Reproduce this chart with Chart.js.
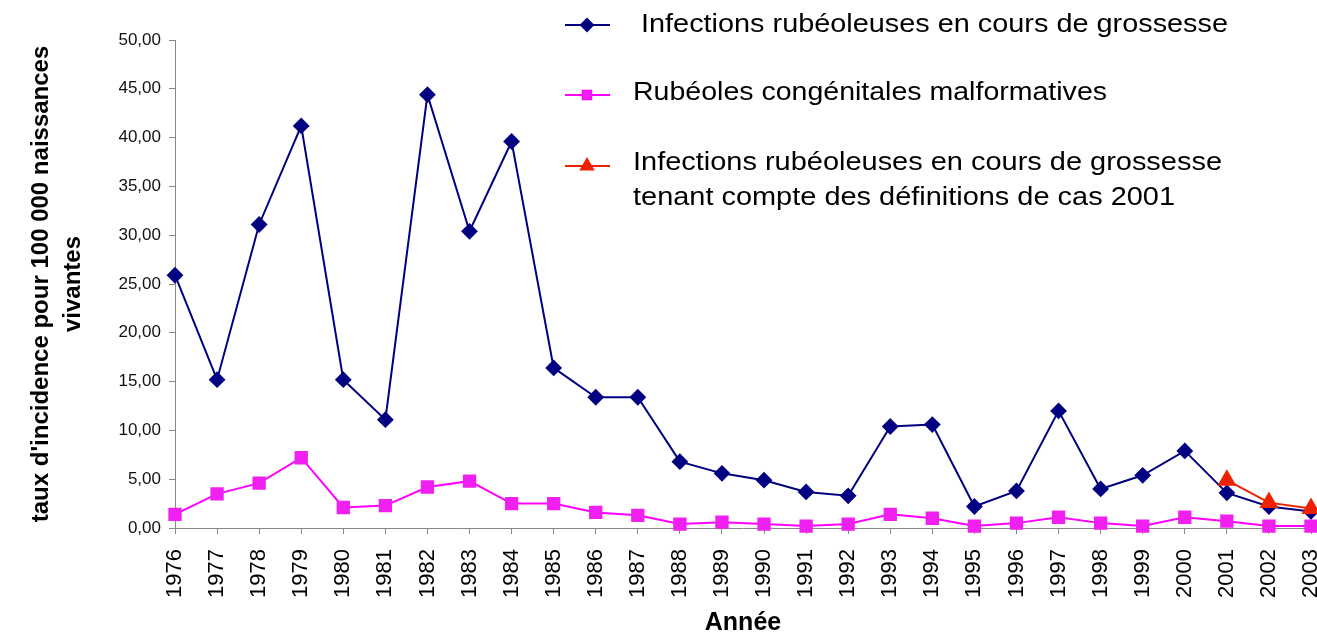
<!DOCTYPE html>
<html>
<head>
<meta charset="utf-8">
<script src="https://cdn.jsdelivr.net/npm/chart.js@4/dist/chart.umd.min.js"></script>
<style>
  html, body { margin: 0; padding: 0; background: #fff; overflow: hidden; }
  #wrap { width: 1317px; height: 636px; overflow: hidden; }
</style>
</head>
<body>
<div id="wrap"><canvas id="c" width="1322" height="636"></canvas></div>
<script>
const years = ['1976','1977','1978','1979','1980','1981','1982','1983','1984','1985','1986','1987','1988','1989',
  '1990','1991','1992','1993','1994','1995','1996','1997','1998','1999','2000','2001','2002','2003'];

const infections = [25.9, 15.2, 31.1, 41.2, 15.2, 11.1, 44.4, 30.4, 39.6, 16.4, 13.4, 13.4, 6.8, 5.6,
  4.9, 3.7, 3.3, 10.4, 10.6, 2.2, 3.8, 12.0, 4.0, 5.4, 7.9, 3.6, 2.2, 1.7];

const malformatives = [1.4, 3.5, 4.6, 7.2, 2.1, 2.3, 4.2, 4.8, 2.5, 2.5, 1.6, 1.3, 0.4, 0.6,
  0.4, 0.2, 0.4, 1.4, 1.0, 0.2, 0.5, 1.1, 0.5, 0.2, 1.1, 0.7, 0.2, 0.2];

const infections2001 = [null, null, null, null, null, null, null, null, null, null, null, null, null, null,
  null, null, null, null, null, null, null, null, null, null, null, 4.9, 2.6, 2.0];

const legendLines = [
  [' Infections rubéoleuses en cours de grossesse'],
  ['Rubéoles congénitales malformatives'],
  ['Infections rubéoleuses en cours de grossesse', 'tenant compte des définitions de cas 2001']
];

const font = '"Liberation Sans", Arial, sans-serif';

// legend drawn in the upper right, over the plot
const sideLegend = {
  id: 'sideLegend',
  afterDraw(chart) {
    const ctx = chart.ctx;
    const rows = [
      { marker: 25, base: [32], widths: [595] },
      { marker: 95, base: [100], widths: [474] },
      { marker: 166, base: [170, 205], widths: [589, 542] }
    ];
    chart.data.datasets.forEach((ds, i) => {
      const r = rows[i];
      ctx.save();
      ctx.strokeStyle = ds.borderColor;
      ctx.lineWidth = 2;
      ctx.beginPath();
      ctx.moveTo(565, r.marker);
      ctx.lineTo(610, r.marker);
      ctx.stroke();
      Chart.helpers.drawPoint(ctx, {
        pointStyle: ds.pointStyle, radius: ds.legendRadius, rotation: 0, borderWidth: 1
      }, 587, r.marker);
      ctx.fillStyle = ds.pointBackgroundColor;
      ctx.strokeStyle = ds.pointBorderColor;
      ctx.fill();
      ctx.restore();

      ctx.save();
      ctx.fillStyle = '#000';
      ctx.font = '26px ' + font;
      ctx.textBaseline = 'alphabetic';
      legendLines[i].forEach((txt, k) => {
        const w = ctx.measureText(txt).width;
        ctx.save();
        ctx.translate(633, r.base[k]);
        ctx.scale(r.widths[k] / w, 1);
        ctx.fillText(txt, 0, 0);
        ctx.restore();
      });
      ctx.restore();
    });
  }
};

new Chart(document.getElementById('c'), {
  type: 'line',
  data: {
    labels: years,
    datasets: [
      {
        label: 'Infections rubéoleuses en cours de grossesse',
        data: infections,
        borderColor: '#000080',
        backgroundColor: '#000080',
        pointBackgroundColor: '#000080',
        pointBorderColor: '#000080',
        pointStyle: 'rectRot',
        pointRadius: 7,
        legendRadius: 6,
        borderWidth: 2,
        tension: 0,
        clip: false,
        order: 1
      },
      {
        label: 'Rubéoles congénitales malformatives',
        data: malformatives,
        borderColor: '#FF00FF',
        backgroundColor: '#FF00FF',
        pointBackgroundColor: '#F020F0',
        pointBorderColor: '#F020F0',
        pointStyle: 'rect',
        pointRadius: 8,
        legendRadius: 6,
        borderWidth: 2,
        tension: 0,
        clip: false,
        order: 2
      },
      {
        label: 'Infections rubéoleuses en cours de grossesse tenant compte des définitions de cas 2001',
        data: infections2001,
        borderColor: '#EE2200',
        backgroundColor: '#EE2200',
        pointBackgroundColor: '#EE2200',
        pointBorderColor: '#EE2200',
        pointStyle: 'triangle',
        pointRadius: 9,
        legendRadius: 7,
        borderWidth: 2,
        tension: 0,
        clip: false,
        spanGaps: false,
        order: 0
      }
    ]
  },
  options: {
    responsive: false,
    animation: false,
    layout: { padding: { left: 0, right: 0, top: 40, bottom: 0 } },
    plugins: {
      legend: { display: false },
      tooltip: { enabled: false }
    },
    scales: {
      x: {
        offset: false,
        grid: { display: true, drawOnChartArea: false, drawTicks: true, tickLength: 6, color: '#888' },
        border: { display: true, color: '#888', width: 1 },
        ticks: {
          autoSkip: false, minRotation: 90, maxRotation: 90, padding: 15,
          color: '#000', font: { family: font, size: 22 }
        },
        title: {
          display: true, text: 'Année', color: '#000',
          font: { family: font, size: 25, weight: 'bold', lineHeight: 1.0 }, padding: { top: 0, bottom: 0 }
        },
        afterFit(scale) {
          scale.height = 108;
          scale.paddingLeft = 0;
          scale.paddingRight = 0;
        }
      },
      y: {
        min: 0, max: 50,
        grid: { display: true, drawOnChartArea: false, drawTicks: true, tickLength: 6, color: '#888' },
        border: { display: true, color: '#888', width: 1 },
        ticks: {
          stepSize: 5, padding: 8, color: '#111',
          font: { family: font, size: 17 },
          callback: v => v.toFixed(2).replace('.', ',')
        },
        title: {
          display: true,
          text: ["taux d'incidence pour 100 000 naissances", 'vivantes'],
          color: '#000',
          font: { family: font, size: 24, weight: 'bold', lineHeight: 1.33 },
          padding: { top: 25, bottom: 0 }
        },
        afterFit(scale) { scale.width = 175; }
      }
    }
  },
  plugins: [sideLegend]
});
</script>
</body>
</html>
